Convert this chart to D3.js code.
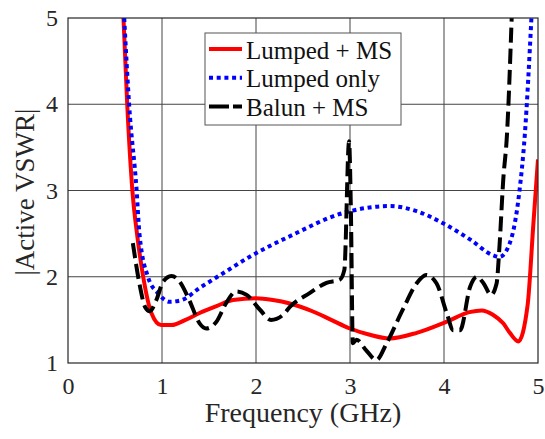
<!DOCTYPE html>
<html>
<head>
<meta charset="utf-8">
<script src="https://cdn.jsdelivr.net/npm/d3@7"></script>
</head>
<body style="margin:0;background:#fff">
<svg id="drawing_region"></svg>
<script>
// Lumped + MS
const freqLumpedMS = [0.59,0.63,0.685,0.74,0.8,0.887,0.99,1.1,1.25,1.4,1.58,1.755,2.0,2.18,2.36,2.6,2.8,3.0,3.2,3.42,3.71,4.03,4.27,4.4,4.52,4.63,4.7,4.79,4.89,4.95,5.0]
const vswrLumpedMS = [5.0,4.0,3.0,2.45,2.0,1.58,1.44,1.44,1.5,1.58,1.66,1.73,1.75,1.73,1.69,1.6,1.5,1.4,1.33,1.285,1.35,1.48,1.59,1.61,1.56,1.46,1.35,1.25,1.675,2.6,3.36]
// Lumped only
const freqLumped = [0.598,0.65,0.73,0.76,0.85,0.957,1.08,1.21,1.4,1.65,1.93,2.36,2.93,3.42,3.71,3.99,4.28,4.52,4.59,4.7,4.8,4.86,4.93]
const vswrLumped = [5.0,4.0,3.0,2.5,2.0,1.81,1.71,1.73,1.87,2.04,2.23,2.47,2.74,2.82,2.76,2.62,2.43,2.25,2.23,2.39,2.97,3.65,5.0]
// Balun + MS
const freqBalun = [0.69,0.76,0.82,0.87,0.94,1.01,1.1,1.19,1.29,1.4,1.47,1.58,1.68,1.79,1.9,2.04,2.16,2.29,2.36,2.57,2.75,2.89,2.94,2.99,3.01,3.03,3.07,3.17,3.28,3.39,3.56,3.71,3.81,3.92,4.03,4.1,4.17,4.28,4.35,4.42,4.5,4.56,4.59,4.63,4.67,4.72]
const vswrBalun = [2.39,1.92,1.65,1.6,1.73,1.94,2.01,1.94,1.73,1.46,1.4,1.48,1.69,1.83,1.79,1.62,1.5,1.56,1.65,1.81,1.93,1.965,2.08,3.57,2.74,1.23,1.27,1.15,1.035,1.23,1.615,1.925,2.02,1.925,1.575,1.38,1.38,1.89,2.0,1.925,1.79,1.925,2.35,3.12,3.65,5.0]

const xTicks = [0,1,2,3,4,5]
const yTicks = [1,2,3,4,5]
const seriesNames = ["Lumped + MS","Lumped only","Balun + MS"]

const FONT = "Liberation Serif"
const config = {
    width:545,
    height:439,
    margin:{top:18,right:7,bottom:76,left:68}
}
const inner_width = config.width-config.margin.left-config.margin.right
const inner_height = config.height-config.margin.top-config.margin.bottom

const svg = d3.select("#drawing_region")
    .attr("width",config.width)
    .attr("height",config.height)
    .attr("font-family",FONT)

const chart = svg.append("g")
    .attr("transform",`translate(${config.margin.left},${config.margin.top})`)

const xscale = d3.scaleLinear().domain([0,5]).range([0,inner_width])
const yscale = d3.scaleLinear().domain([1,5]).range([inner_height,0])

svg.append("defs").append("clipPath").attr("id","clip")
    .append("rect").attr("width",inner_width).attr("height",inner_height)

// grid
chart.append("g").selectAll("line.gx")
    .data(xTicks.slice(1,-1))
    .enter().append("line")
    .attr("x1",d=>xscale(d)).attr("x2",d=>xscale(d))
    .attr("y1",0).attr("y2",inner_height)
    .attr("stroke","#444").attr("stroke-width",1)
chart.append("g").selectAll("line.gy")
    .data(yTicks.slice(1,-1))
    .enter().append("line")
    .attr("y1",d=>yscale(d)).attr("y2",d=>yscale(d))
    .attr("x1",0).attr("x2",inner_width)
    .attr("stroke","#444").attr("stroke-width",1)

// axes
const xaxis = d3.axisBottom(xscale).tickValues(xTicks).tickFormat(d3.format("d")).tickSize(0).tickPadding(14)
const yaxis = d3.axisLeft(yscale).tickValues(yTicks).tickFormat(d3.format("d")).tickSize(0).tickPadding(10)
const xg = chart.append("g").attr("transform",`translate(0,${inner_height})`).call(xaxis)
const yg = chart.append("g").call(yaxis)
xg.select(".domain").remove()
yg.select(".domain").remove()
xg.attr("font-family",FONT).attr("font-size",24)
yg.attr("font-family",FONT).attr("font-size",24)
xg.selectAll("text").attr("fill","#262626")
yg.selectAll("text").attr("fill","#262626")

const line = d3.line()
    .x(d=>xscale(d[0]))
    .y(d=>yscale(d[1]))
    .curve(d3.curveMonotoneX)

const plot = chart.append("g").attr("clip-path","url(#clip)")
plot.append("path")
    .datum(d3.zip(freqLumpedMS,vswrLumpedMS))
    .attr("d",line).attr("fill","none")
    .attr("stroke","#ff0000").attr("stroke-width",4)
plot.append("path")
    .datum(d3.zip(freqLumped,vswrLumped))
    .attr("d",line).attr("fill","none")
    .attr("stroke","#0000ff").attr("stroke-width",4)
    .attr("stroke-dasharray","4,3.7")
plot.append("path")
    .datum(d3.zip(freqBalun,vswrBalun))
    .attr("d",line).attr("fill","none")
    .attr("stroke","#000").attr("stroke-width",4)
    .attr("stroke-dasharray","15,6")

// box
chart.append("rect")
    .attr("width",inner_width).attr("height",inner_height)
    .attr("fill","none").attr("stroke","#262626").attr("stroke-width",1.2)

// legend
const legend = svg.append("g").attr("transform","translate(205,33)")
legend.append("rect")
    .attr("width",196).attr("height",92)
    .attr("fill","#fff").attr("stroke","#555").attr("stroke-width",1)
const styles = [
    {color:"#ff0000",dash:null},
    {color:"#0000ff",dash:"4,3.7"},
    {color:"#000",dash:"20,4"}
]
seriesNames.forEach((name,i)=>{
    const y = 16+i*28.7
    legend.append("line")
        .attr("x1",4).attr("x2",37).attr("y1",y).attr("y2",y)
        .attr("stroke",styles[i].color).attr("stroke-width",4)
        .attr("stroke-dasharray",styles[i].dash)
    legend.append("text")
        .attr("x",41).attr("y",y+9.5)
        .attr("font-family",FONT).attr("font-size",25)
        .attr("fill","#111")
        .text(name)
})

// labels
svg.append("text")
    .attr("x",config.margin.left+inner_width/2).attr("y",422)
    .attr("text-anchor","middle")
    .attr("font-family",FONT).attr("font-size",28).attr("fill","#262626")
    .text("Frequency (GHz)")
svg.append("text")
    .attr("transform",`translate(34,192) rotate(-90)`)
    .attr("text-anchor","middle")
    .attr("font-family",FONT).attr("font-size",27).attr("fill","#262626")
    .text("|Active VSWR|")
</script>
</body>
</html>
